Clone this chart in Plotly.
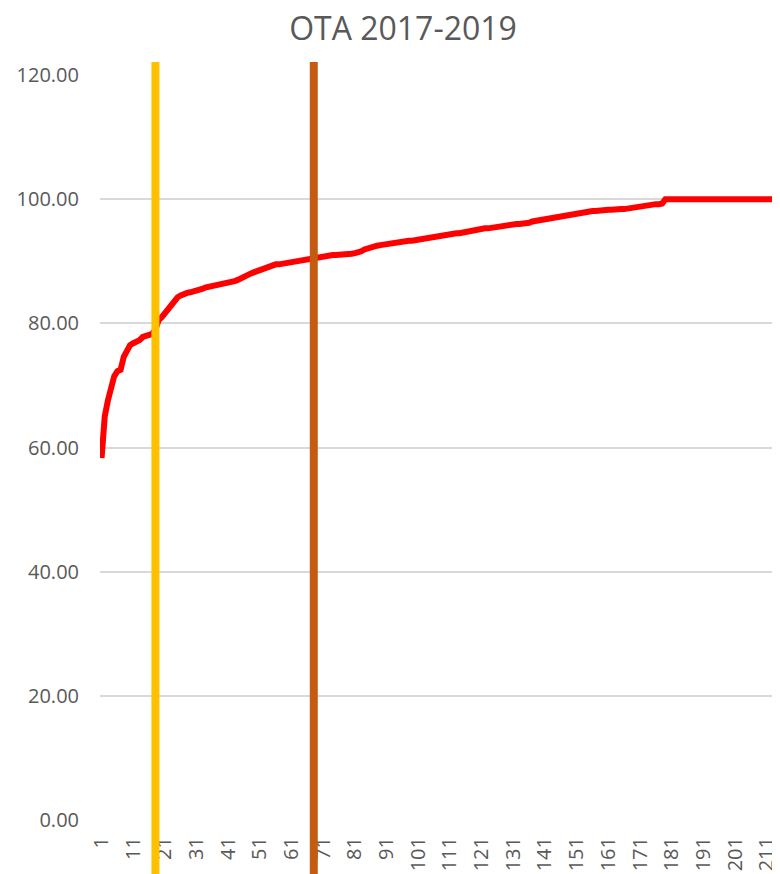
import plotly.graph_objects as go

# cumulative share (%) per ranked item
values = [
    58.3, 65.0, 67.6, 69.8, 71.5, 72.3, 72.5, 74.6, 75.4, 76.5,
    76.8, 77.0, 77.3, 77.8, 78.0, 78.1, 78.3, 79.0, 80.5, 81.0,
    81.7, 82.3, 83.0, 83.6, 84.2, 84.5, 84.8, 84.9, 85.0, 85.1,
    85.2, 85.4, 85.6, 85.8, 85.9, 86.0, 86.0, 86.1, 86.2, 86.4,
    86.6, 86.7, 86.8, 87.0, 87.3, 87.6, 87.8, 88.0, 88.2, 88.4,
    88.6, 88.9, 89.1, 89.3, 89.4, 89.5, 89.5, 89.6, 89.7, 89.8,
    89.9, 90.0, 90.1, 90.2, 90.3, 90.3, 90.3, 90.4, 90.5, 90.6,
    90.7, 90.8, 90.9, 91.0, 91.0, 91.0, 91.1, 91.1, 91.2, 91.2,
    91.3, 91.4, 91.6, 91.9, 92.1, 92.3, 92.4, 92.5, 92.6, 92.7,
    92.7, 92.8, 92.9, 93.0, 93.1, 93.2, 93.3, 93.3, 93.3, 93.4,
    93.4, 93.4, 93.5, 93.7, 93.8, 93.9, 94.0, 94.0, 94.1, 94.2,
    94.3, 94.4, 94.5, 94.5, 94.6, 94.8, 95.0, 95.1, 95.2, 95.2,
    95.3, 95.3, 95.3, 95.4, 95.5, 95.6, 95.7, 95.7, 95.8, 95.8,
    95.9, 96.0, 96.0, 96.0, 96.0, 96.2, 96.4, 96.5, 96.6, 96.6,
    96.7, 96.7, 96.8, 96.9, 97.0, 97.2, 97.3, 97.5, 97.6, 97.7,
    97.8, 97.9, 97.9, 98.0, 98.0, 98.1, 98.1, 98.2, 98.2, 98.3,
    98.3, 98.3, 98.4, 98.4, 98.4, 98.4, 98.5, 98.6, 98.7, 98.8,
    98.9, 98.9, 99.0, 99.1, 99.1, 99.2, 99.2, 99.3, 100.0, 100.0,
    100.0, 100.0, 100.0, 100.0, 100.0, 100.0, 100.0, 100.0, 100.0, 100.0,
    100.0, 100.0, 100.0, 100.0, 100.0, 100.0, 100.0, 100.0, 100.0, 100.0,
    100.0, 100.0, 100.0, 100.0, 100.0, 100.0, 100.0, 100.0, 100.0, 100.0,
    100.0, 100.0, 100.0, 100.0, 100.0,
]
categories = list(range(1, len(values) + 1))
tick_vals = list(range(1, 212, 10))
tick_text = [str(v) for v in tick_vals]
y_ticks = [0, 20, 40, 60, 80, 100, 120]

# the two vertical marker lines (category position, colour)
marker_cats = [18, 68]
marker_colors = ["#FFC000", "#C55A11"]

grey = "#595959"
font = "Open Sans"

# page body has an 8px margin, so the figure is a bit smaller than the window
W, H = 772, 866

fig = go.Figure()
fig.add_trace(go.Scatter(x=categories, y=values, mode="lines",
                         line=dict(color="#FF0000", width=6), showlegend=False))

for cat, col in zip(marker_cats, marker_colors):
    fig.add_shape(type="line", xref="x", yref="paper",
                  x0=cat, x1=cat, y0=-0.08, y1=1.0175,
                  line=dict(color=col, width=8), layer="above")

fig.update_xaxes(range=[0.5, 215.2], tickmode="array", tickvals=tick_vals,
                 ticktext=tick_text, tickangle=-90, showgrid=False,
                 zeroline=False, showline=False, ticks="",
                 tickfont=dict(family=font, size=20, color=grey),
                 ticklabelstandoff=12)
fig.update_yaxes(range=[0, 120], tickvals=y_ticks, tickformat=".2f",
                 showgrid=True, gridcolor="#D9D9D9", gridwidth=1.5,
                 zeroline=False, showline=False, ticks="",
                 tickfont=dict(family=font, size=20, color=grey),
                 ticklabelstandoff=20)

fig.update_layout(
    width=W, height=H,
    margin=dict(l=92, r=0, t=67, b=54),
    paper_bgcolor="white", plot_bgcolor="white",
    title=dict(text="OTA 2017-2019", x=395 / W, xanchor="center",
               y=1 - 21 / H, yanchor="middle", xref="container", yref="container",
               font=dict(family=font, size=32, color=grey)),
)

fig.write_html("out.html")
